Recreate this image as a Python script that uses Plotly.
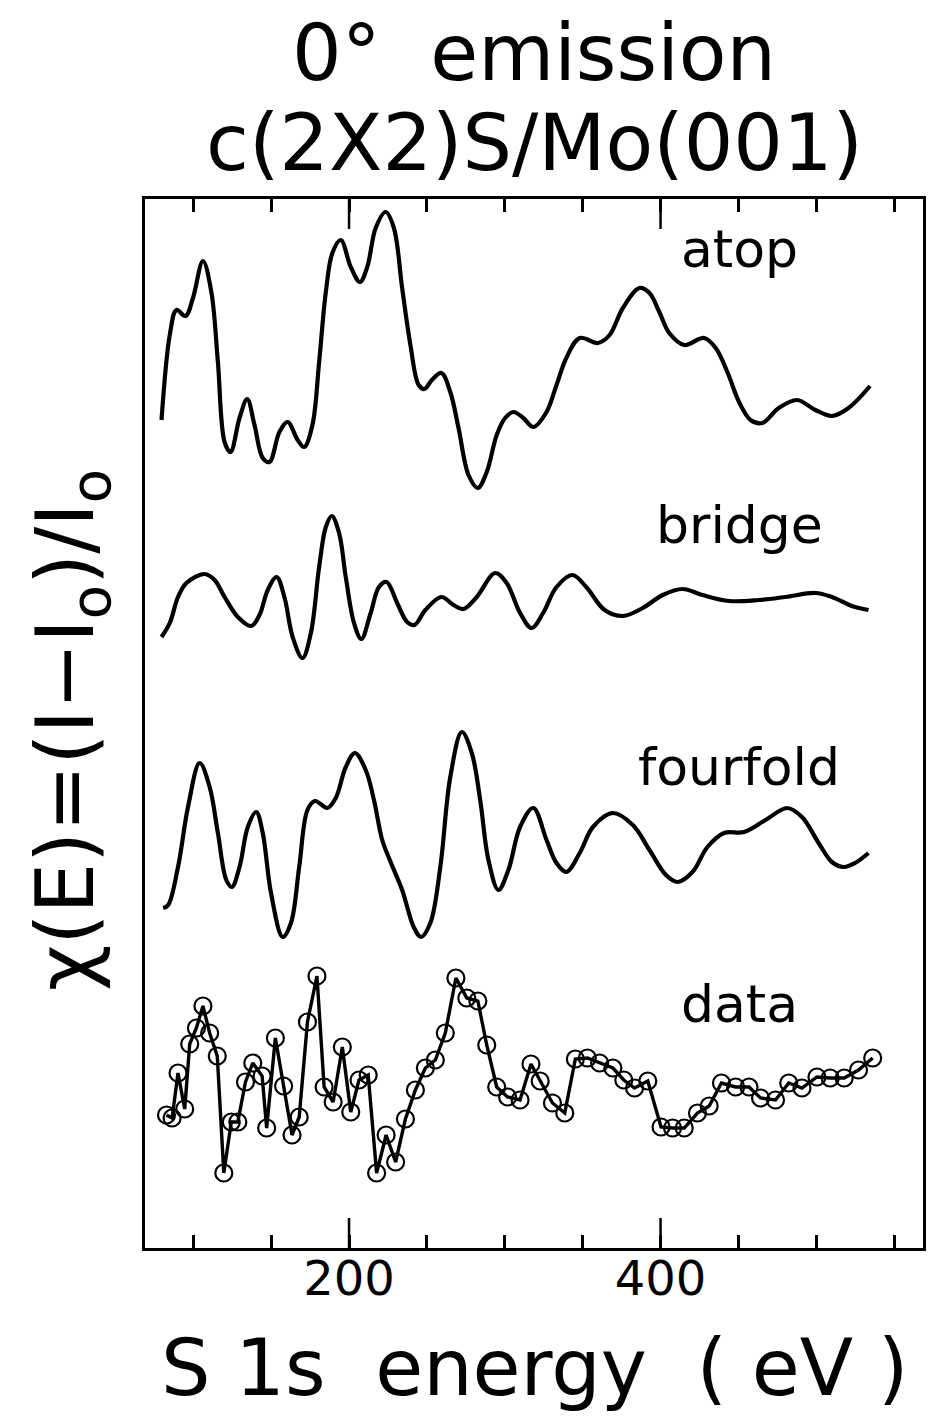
import plotly.graph_objects as go

# ---------------- data (energy in eV, chi in arbitrary units) ----------------
atop_e = [79.6, 84.9, 89.2, 95.0, 99.8, 106.2, 111.6, 115.8, 120.1, 123.9, 129.7, 134.6,
          139.3, 144.6, 148.9, 155.3, 160.6, 167.0, 171.2, 176.5, 180.8, 185.1, 189.3,
          194.7, 201.1, 207.0, 211.7, 217.1, 223.5, 228.8, 234.1, 239.4, 244.7, 248.4,
          253.2, 259.3, 265.0, 270.3, 276.7, 282.7, 288.4, 294.8, 300.2, 305.5, 311.9,
          318.3, 326.8, 333.2, 339.5, 348.1, 359.8, 367.3, 375.8, 386.5, 392.9, 399.2,
          405.6, 415.2, 428.0, 435.4, 442.9, 450.4, 457.8, 465.3, 475.9, 487.6, 499.4,
          510.0, 520.7, 534.5]
atop_chi = [-0.22, 0.63, 0.88, 0.82, 1.00, 1.37, 1.06, 0.36, -0.44, -0.54, -0.20, -0.01,
            -0.27, -0.60, -0.64, -0.34, -0.24, -0.42, -0.49, -0.27, 0.36, 1.06, 1.45,
            1.58, 1.31, 1.16, 1.31, 1.70, 1.86, 1.70, 1.10, 0.53, 0.13, 0.09,
            0.18, 0.25, 0.06, -0.30, -0.77, -0.90, -0.74, -0.37, -0.20, -0.14, -0.20,
            -0.29, -0.14, 0.13, 0.40, 0.60, 0.55, 0.63, 0.90, 1.10, 1.05, 0.86,
            0.65, 0.53, 0.60, 0.50, 0.26, -0.04, -0.22, -0.25, -0.10, -0.02, -0.12,
            -0.18, -0.10, 0.12]

bridge_e = [79.6, 84.9, 90.2, 95.6, 107.3, 113.7, 120.1, 128.6, 137.2, 142.5, 147.8, 153.5,
            158.5, 163.8, 170.1, 175.5, 180.8, 185.1, 188.9, 193.6, 197.9, 203.2, 207.9,
            213.9, 219.2, 224.1, 230.9, 237.3, 242.0, 249.0, 259.3, 267.1, 273.5, 282.0,
            293.8, 301.2, 309.8, 317.2, 324.6, 333.2, 343.4, 352.3, 364.1, 375.8, 388.6,
            401.4, 414.1, 426.9, 444.0, 463.2, 480.2, 499.4, 510.0, 522.8, 533.5]
bridge_chi = [-0.39, -0.25, 0.01, 0.15, 0.24, 0.18, 0.01, -0.19, -0.28, -0.17, 0.08, 0.21,
              0.01, -0.39, -0.60, -0.35, 0.31, 0.71, 0.82, 0.65, 0.21, -0.25, -0.41,
              -0.15, 0.11, 0.16, -0.05, -0.24, -0.27, -0.12, 0.01, -0.07, -0.11, 0.01,
              0.25, 0.15, -0.15, -0.30, -0.15, 0.11, 0.23, 0.11, -0.12, -0.18, -0.10,
              0.03, 0.09, 0.03, -0.03, -0.02, 0.01, 0.05, 0.01, -0.08, -0.12]

fourfold_e = [80.7, 83.9, 90.2, 96.6, 104.1, 110.5, 115.8, 121.2, 124.8, 129.7, 135.0, 140.4,
              144.6, 149.9, 157.4, 162.7, 168.0, 173.3, 178.1, 186.1, 191.5, 197.9, 203.8,
              210.7, 216.0, 221.3, 226.7, 234.1, 241.5, 246.2, 252.2, 258.6, 265.0, 272.4,
              278.8, 284.2, 289.5, 295.9, 302.3, 309.8, 318.3, 326.8, 333.2, 339.5, 348.1,
              356.6, 369.4, 382.2, 392.9, 403.5, 410.9, 420.5, 430.1, 440.8, 453.6, 467.4,
              481.3, 490.8, 501.5, 510.0, 517.5, 524.9, 533.5]
fourfold_chi = [-0.60, -0.57, -0.19, 0.41, 0.85, 0.61, 0.15, -0.32, -0.39, -0.19, 0.21, 0.36,
                0.15, -0.45, -0.89, -0.75, -0.19, 0.38, 0.47, 0.40, 0.50, 0.81, 0.95,
                0.78, 0.48, 0.08, -0.14, -0.42, -0.79, -0.89, -0.75, -0.19, 0.71, 1.16,
                0.95, 0.48, -0.12, -0.42, -0.22, 0.21, 0.40, 0.08, -0.15, -0.24, -0.05,
                0.21, 0.35, 0.23, -0.02, -0.27, -0.34, -0.24, 0.01, 0.15, 0.16, 0.28,
                0.40, 0.31, 0.05, -0.14, -0.19, -0.15, -0.05]

data_e = [82.8, 86.4, 90.2, 94.5, 97.7, 102.0, 106.2, 110.5, 115.4, 119.6, 124.4, 128.6,
          133.5, 138.2, 144.2, 147.1, 152.7, 158.0, 163.4, 168.0, 173.3, 179.4, 184.0,
          189.8, 195.7, 201.1, 206.4, 212.3, 217.7, 223.8, 229.9, 236.2, 242.6, 249.0,
          255.4, 261.8, 268.6, 275.6, 282.7, 288.4, 294.8, 301.8, 309.8, 316.8, 322.7,
          330.6, 338.5, 345.3, 353.0, 360.9, 369.4, 376.4, 383.3, 391.8, 400.3, 407.7,
          415.2, 423.7, 431.2, 439.1, 448.2, 456.8, 464.2, 473.8, 482.3, 490.8, 500.4,
          508.9, 517.9, 527.1, 536.2]
data_chi = [-0.17, -0.20, 0.25, -0.11, 0.54, 0.70, 0.92, 0.65, 0.42, -0.75, -0.24, -0.24,
            0.16, 0.35, 0.22, -0.30, 0.60, 0.12, -0.37, -0.19, 0.76, 1.22, 0.11,
            -0.04, 0.51, -0.14, 0.18, 0.23, -0.75, -0.37, -0.64, -0.21, 0.08, 0.30,
            0.38, 0.65, 1.20, 1.00, 0.97, 0.53, 0.11, 0.01, -0.02, 0.34, 0.17,
            -0.05, -0.15, 0.39, 0.40, 0.35, 0.30, 0.18, 0.10, 0.17, -0.29, -0.30,
            -0.30, -0.15, -0.08, 0.15, 0.11, 0.11, 0.00, -0.02, 0.15, 0.10, 0.21,
            0.20, 0.20, 0.28, 0.40]

curve_names = ["atop", "bridge", "fourfold", "data"]
curve_offsets = [8.5, 6.5, 4.0, 1.5]
label_y = [9.99, 7.23, 4.81, 2.44]
label_x = 450.6

x_tickvals = [100, 150, 200, 250, 300, 350, 400, 450, 500, 550]
x_ticktext = ["", "", "200", "", "", "", "400", "", "", ""]
x_major = [200, 400]

title_lines = ["0°  emission", "c(2X2)S/Mo(001)"]
x_title = "S 1s  energy  ( eV )"
y_title = "χ(E)=(I−I<sub>o</sub>)/I<sub>o</sub>"

FONT = "DejaVu Sans"
BLACK = "#000000"
XRANGE = [69, 568.5]
PLOT_H = 1049  # px height of plotting area
MAJOR_LEN = 30

fig = go.Figure()

sim = [(atop_e, atop_chi), (bridge_e, bridge_chi), (fourfold_e, fourfold_chi)]
for (e, c), off in zip(sim, curve_offsets[:3]):
    fig.add_trace(go.Scatter(
        x=e, y=[v + off for v in c], mode="lines",
        line=dict(color=BLACK, width=4.2, shape="spline", smoothing=1.0),
        showlegend=False, hoverinfo="skip"))

fig.add_trace(go.Scatter(
    x=data_e, y=[v + curve_offsets[3] for v in data_chi], mode="lines+markers",
    line=dict(color=BLACK, width=3.4),
    marker=dict(symbol="circle-open", size=17, color=BLACK, line=dict(width=2.2, color=BLACK)),
    showlegend=False, hoverinfo="skip"))

for name, ly in zip(curve_names, label_y):
    fig.add_annotation(x=label_x, y=ly, xref="x", yref="y", text=name, showarrow=False,
                       xanchor="center", yanchor="middle",
                       font=dict(family=FONT, size=52, color=BLACK))

# long ticks at the labelled energies (bottom and top edges)
for v in x_major:
    fig.add_shape(type="line", xref="x", yref="paper", x0=v, x1=v,
                  y0=0, y1=MAJOR_LEN / PLOT_H, line=dict(color=BLACK, width=2.5))
    fig.add_shape(type="line", xref="x", yref="paper", x0=v, x1=v,
                  y0=1, y1=1 - MAJOR_LEN / PLOT_H, line=dict(color=BLACK, width=2.5))

# titles
fig.add_annotation(x=0.5, y=1.139, xref="paper", yref="paper", text=title_lines[0],
                   showarrow=False, xanchor="center", yanchor="middle",
                   font=dict(family=FONT, size=78, color=BLACK))
fig.add_annotation(x=0.5, y=1.053, xref="paper", yref="paper", text=title_lines[1],
                   showarrow=False, xanchor="center", yanchor="middle",
                   font=dict(family=FONT, size=78, color=BLACK))
fig.add_annotation(x=0.5, y=-0.1144, xref="paper", yref="paper", text=x_title,
                   showarrow=False, xanchor="center", yanchor="middle",
                   font=dict(family=FONT, size=78, color=BLACK))
fig.add_annotation(x=-0.095, y=0.494, xref="paper", yref="paper", text=y_title,
                   showarrow=False, xanchor="center", yanchor="middle", textangle=-90,
                   font=dict(family=FONT, size=80, color=BLACK))

fig.update_layout(
    width=928, height=1419,
    margin=dict(l=145, r=2, t=199, b=171),
    paper_bgcolor="white", plot_bgcolor="white",
    xaxis=dict(range=XRANGE, showgrid=False, zeroline=False,
               showline=True, linewidth=3, linecolor=BLACK, mirror="ticks",
               ticks="inside", ticklen=13, tickwidth=2.5, tickcolor=BLACK,
               tickmode="array", tickvals=x_tickvals, ticktext=x_ticktext,
               ticklabelstandoff=-14,
               tickfont=dict(family=FONT, size=48, color=BLACK)),
    yaxis=dict(range=[0, 10.49], showgrid=False, zeroline=False,
               showline=True, linewidth=3, linecolor=BLACK, mirror=True,
               showticklabels=False, ticks=""),
)

fig.write_html("out.html")
